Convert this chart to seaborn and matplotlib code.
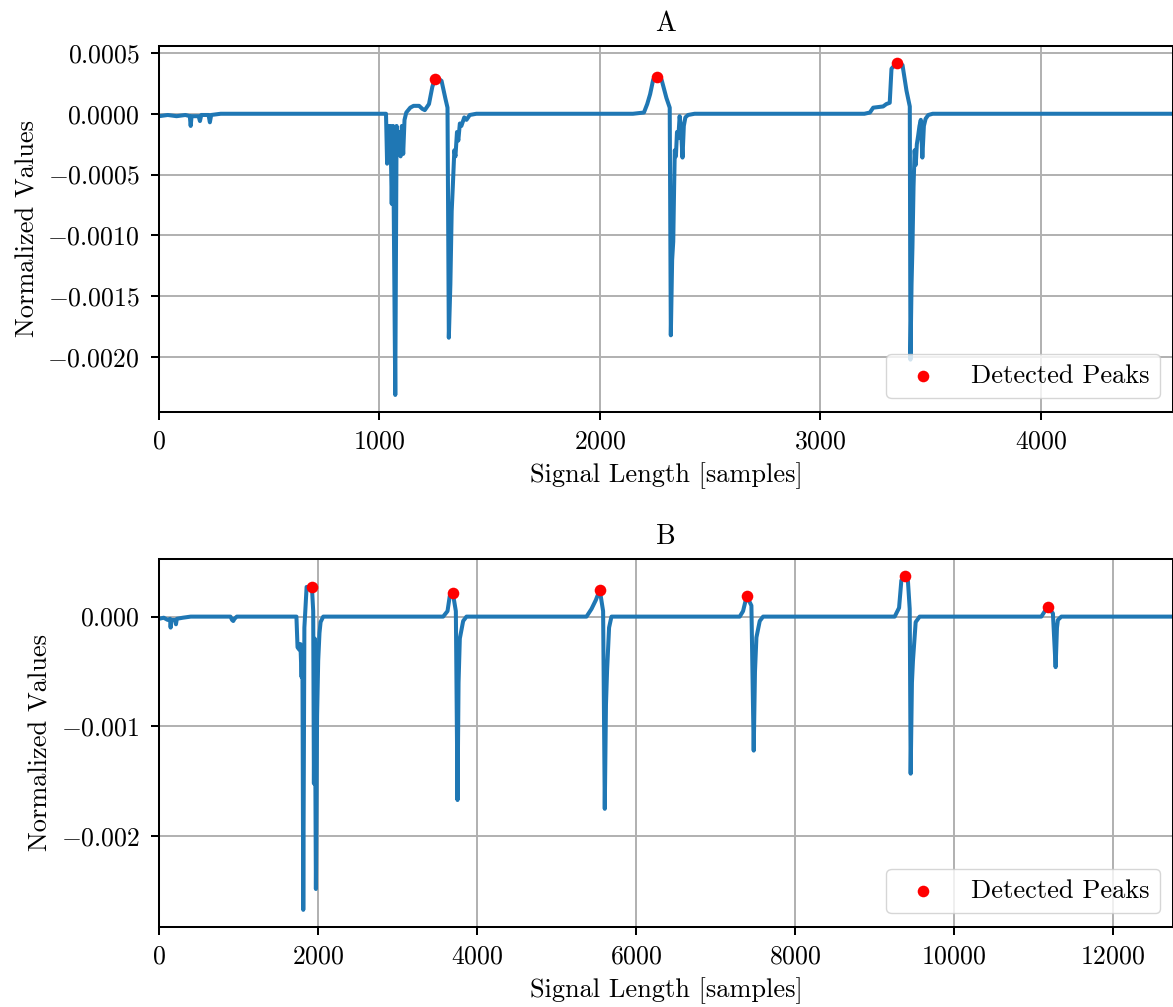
import matplotlib
matplotlib.use("Agg")
import matplotlib.pyplot as plt
from matplotlib.ticker import MultipleLocator
import seaborn as sns

# ---- Signal A: breakpoints of the normalized trace ----
a_samples = [0, 40, 80, 120, 140, 144, 148, 180, 186, 192, 225, 231, 237, 280,
             1030, 1035, 1040, 1045, 1050, 1056, 1062, 1072, 1078, 1085, 1090, 1096,
             1102, 1108, 1114, 1122, 1140, 1155, 1180, 1195, 1206, 1225, 1240, 1252,
             1270, 1282, 1300, 1309, 1315, 1322, 1328, 1333, 1340, 1345, 1352, 1358,
             1365, 1372, 1385, 1395, 1410, 1440,
             2150, 2200, 2215, 2228, 2242, 2259, 2280, 2302, 2317, 2322, 2328, 2333,
             2337, 2340, 2345, 2350, 2356, 2362, 2368, 2375, 2381, 2388, 2400, 2430,
             3200, 3225, 3240, 3285, 3300, 3315, 3323, 3347, 3373, 3391, 3406, 3409,
             3414, 3418, 3423, 3428, 3433, 3438, 3444, 3450, 3456, 3463, 3470, 3478,
             3490, 3510, 4600]
a_values = [-0.00002, -0.00001, -0.00002, -0.00001, -0.00002, -0.0001, -0.00002, -0.00002,
            -0.00006, -0.00001, -0.00001, -0.00007, -0.00001, 0.0,
            0.0, -0.00041, -0.0001, -0.00038, -0.0001, -0.00074, -0.0001, -0.00231,
            -0.0001, -0.0003, -0.00015, -0.00035, -0.0001, -0.00033, -0.00005, 0.00001,
            0.00005, 0.000065, 0.000065, 0.00004, 0.00003, 0.00008, 0.00022, 0.000289,
            0.000285, 0.00027, 0.00012, 0.00005, -0.00184, -0.0014, -0.0008, -0.0006,
            -0.0003, -0.00035, -0.00015, -0.00022, -0.00008, -0.0001, -0.00003, -0.00005,
            -0.00001, 0.0,
            0.0, 0.00001, 0.00008, 0.00016, 0.00028, 0.000298, 0.00028, 0.00013, 0.00005,
            -0.00182, -0.0012, -0.00105, -0.0006, -0.0003, -0.00035, -0.00015, -0.0002,
            -0.00002, -0.00012, -0.00036, -0.0001, -0.00003, -0.00001, 0.0,
            0.0, 0.00001, 0.00005, 0.00006, 0.00008, 0.00009, 0.00037, 0.00042, 0.0004,
            0.00019, 0.00006, -0.00202, -0.0014, -0.0011, -0.0006, -0.0003, -0.00042,
            -0.00025, -0.00018, -0.0001, -0.00005, -0.00036, -0.0001, -0.00004, -0.00001,
            0.0, 0.0]
a_peak_samples = [1252, 2259, 3347]
a_peak_values = [0.000289, 0.000298, 0.00042]

# ---- Signal B: breakpoints of the normalized trace ----
b_samples = [0, 60, 110, 140, 147, 155, 200, 214, 225, 300, 400, 900, 920, 935, 950, 980,
             1730, 1744, 1765, 1780, 1795, 1805, 1816, 1830, 1840, 1858, 1925, 1941, 1950,
             1960, 1975, 1990, 2004, 2020, 2034, 2067,
             3576, 3631, 3660, 3698, 3736, 3757, 3770, 3786, 3828, 3870,
             5380, 5443, 5497, 5547, 5589, 5610, 5625, 5639, 5664, 5694,
             7308, 7350, 7396, 7455, 7484, 7500, 7518, 7560, 7602,
             9258, 9313, 9342, 9384, 9425, 9447, 9459, 9475, 9488, 9522, 9572,
             11103, 11166, 11182, 11249, 11283, 11300, 11312, 11355, 12760]
b_values = [-0.00002, -0.00001, -0.00003, -0.00002, -0.0001, -0.00003, -0.00003, -0.00007,
            -0.00002, -0.00001, 0.0, 0.0, -0.00003, -0.00004, -0.00002, 0.0,
            0.0, -0.00028, -0.0003, -0.00025, -0.00055, -0.0003, -0.00267, -0.0001, 0.00003,
            0.00027, 0.00027, 0.00005, -0.00152, -0.0002, -0.00248, -0.0009, -0.0004,
            -0.00015, -0.00005, 0.0,
            0.0, 0.00005, 0.00019, 0.000215, 0.00005, -0.00167, -0.0006, -0.0002, -0.00004, 0.0,
            0.0, 0.00007, 0.00015, 0.000243, 0.00005, -0.00175, -0.0008, -0.00049, -0.0001, 0.0,
            0.0, 0.00005, 0.000188, 0.0001, -0.00122, -0.0005, -0.00019, -0.00004, 0.0,
            0.0, 0.00008, 0.00033, 0.00037, 0.00032, 0.00007, -0.00143, -0.0006, -0.0004,
            -0.00005, 0.0,
            0.0, 0.00007, 0.000088, 0.00003, -0.00046, -0.0001, -0.00003, 0.0, 0.0]
b_peak_samples = [1925, 3698, 5547, 7396, 9384, 11182]
b_peak_values = [0.00027, 0.000215, 0.000243, 0.000188, 0.00037, 0.000088]

titles = ["A", "B"]
y_steps = [0.0005, 0.001]

sns.set_style("ticks")
FS = 19
TICK_FS = 18.5
plt.rcParams.update({
    "font.family": "serif",
    "font.serif": ["cmr10"],
    "mathtext.fontset": "cm",
    "axes.formatter.use_mathtext": True,
    "axes.unicode_minus": True,
    "font.size": FS,
    "text.color": "black",
    "axes.labelcolor": "black",
    "axes.titlecolor": "black",
    "axes.linewidth": 1.45,
    "xtick.major.size": 5.8,
    "ytick.major.size": 5.8,
    "xtick.major.width": 1.45,
    "ytick.major.width": 1.45,
    "xtick.major.pad": 7.5,
    "ytick.major.pad": 8.0,
    "xtick.color": "black",
    "ytick.color": "black",
    "xtick.labelcolor": "black",
    "ytick.labelcolor": "black",
    "axes.edgecolor": "black",
    "legend.labelcolor": "black",
})

fig = plt.figure(figsize=(11.73, 10.07), dpi=100)
ax_a = fig.add_axes([0.1355, 0.5913, 0.8645, 0.3630])
ax_b = fig.add_axes([0.1355, 0.0799, 0.8645, 0.3647])

panels = [
    (ax_a, a_samples, a_values, a_peak_samples, a_peak_values),
    (ax_b, b_samples, b_values, b_peak_samples, b_peak_values),
]

for (ax, xs, ys, px, py), title, step in zip(panels, titles, y_steps):
    sns.lineplot(x=xs, y=ys, ax=ax, color="#1f77b4", linewidth=2.9,
                 estimator=None, sort=False, zorder=2)
    sns.scatterplot(x=px, y=py, ax=ax, color="red", s=70, linewidth=0,
                    label="Detected Peaks", zorder=3)
    ax.set_xlim(0, xs[-1])
    ax.margins(y=0.05)
    ax.yaxis.set_major_locator(MultipleLocator(step))
    ax.grid(True, color="#b0b0b0", linewidth=1.4)
    ax.set_axisbelow(True)
    ax.set_title(title, fontsize=FS + 1, pad=11, color="black")
    ax.set_xlabel("Signal Length [samples]", fontsize=FS, labelpad=6, color="black")
    ax.set_ylabel("Normalized Values", fontsize=FS, labelpad=6, color="black")
    ax.tick_params(labelsize=TICK_FS, direction="out", colors="black")
    for side in ["top", "right", "left", "bottom"]:
        ax.spines[side].set_visible(True)
        ax.spines[side].set_color("black")
    ax.legend(loc="lower right", fontsize=FS, framealpha=0.8, labelcolor="black")

fig.savefig("out.png", dpi=100)
